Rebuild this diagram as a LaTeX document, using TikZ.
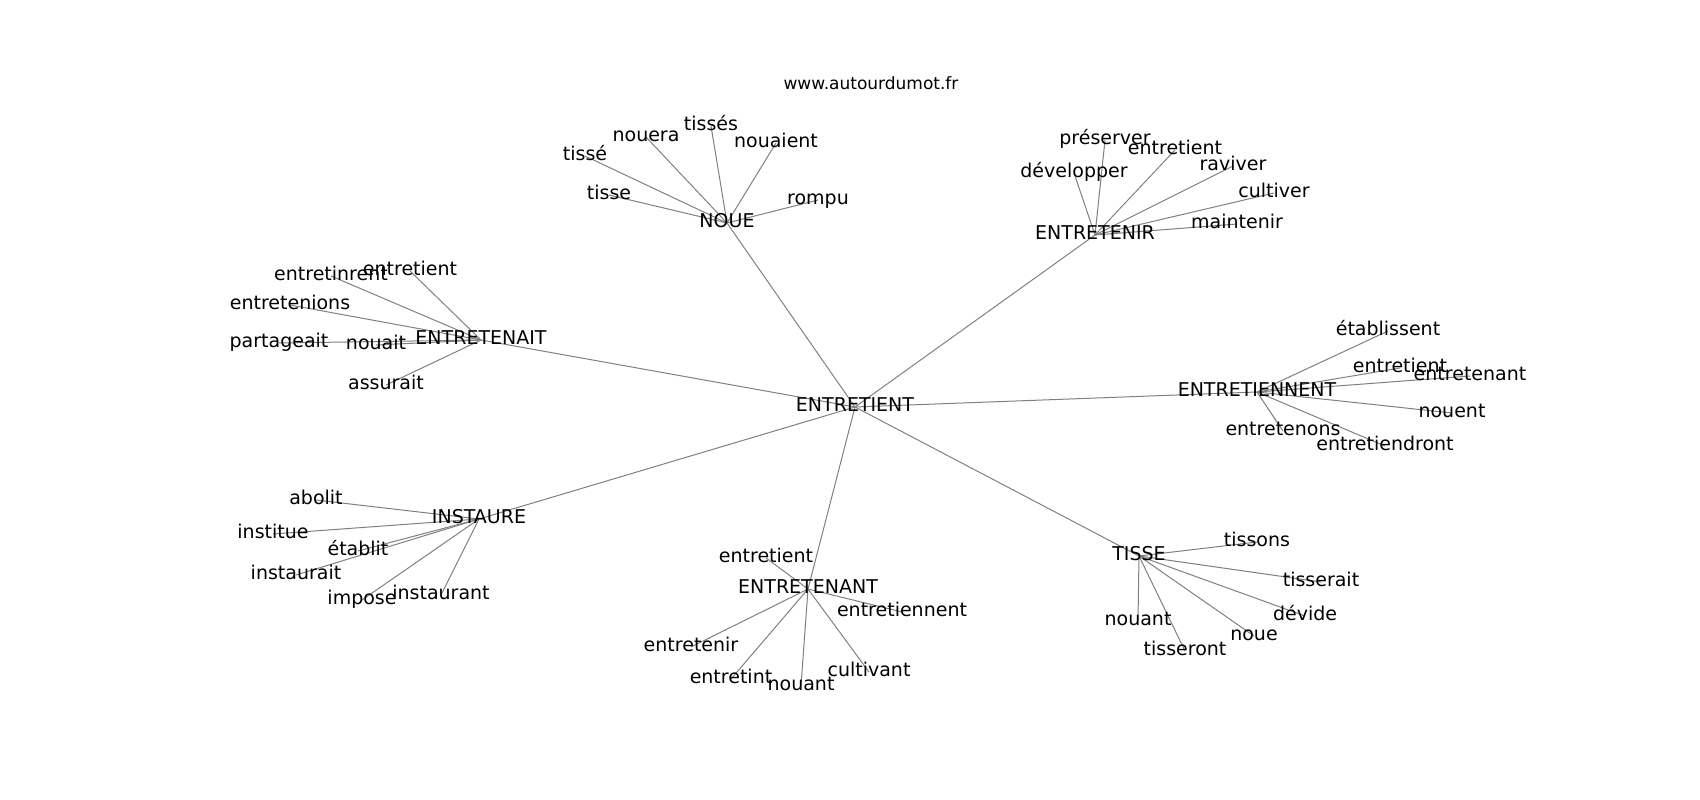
\documentclass[tikz,border=0pt]{standalone}
\usepackage{fontspec}
\setmainfont{DejaVu Sans}
\usetikzlibrary{backgrounds}

\begin{document}
\begin{tikzpicture}[x=1pt, y=-1pt,
    word/.style={inner sep=0pt, text height=14pt, text depth=4.5pt, font=\fontsize{19}{23}\selectfont},
    edge/.style={draw=gray, line width=1pt}]
  \useasboundingbox (0,0) rectangle (1700,800);

  \node [inner sep=0pt, font=\fontsize{17}{20}\selectfont] (title) at (871,83) {www.autourdumot.fr};

  % hubs
  \node [word] (entretient) at (855,407) {ENTRETIENT};
  \node [word] (noue) at (727,223) {NOUE};
  \node [word] (entretenir) at (1095,235) {ENTRETENIR};
  \node [word] (entretenait) at (481,340) {ENTRETENAIT};
  \node [word] (entretiennent) at (1257,392) {ENTRETIENNENT};
  \node [word] (instaure) at (479,519) {INSTAURE};
  \node [word] (entretenant) at (808,589) {ENTRETENANT};
  \node [word] (tisse) at (1139,556) {TISSE};

  \begin{scope}[on background layer]
    \foreach \h in {noue, entretenir, entretenait, entretiennent, instaure, entretenant, tisse}
      \draw [edge] (entretient.center) -- (\h.center);
  \end{scope}

  % leaves
  \foreach \w/\x/\y [count=\i] in {tisse/609/195, tissé/585/156, nouera/646/137, tissés/711/126, nouaient/776/143, rompu/818/200} {
    \node [word] (noue-\i) at (\x,\y) {\w};
    \begin{scope}[on background layer]
      \draw [edge] (noue.center) -- (noue-\i.center);
    \end{scope}
  }
  \foreach \w/\x/\y [count=\i] in {préserver/1105/140, entretient/1175/150, développer/1074/173, raviver/1233/166, cultiver/1274/193, maintenir/1237/224} {
    \node [word] (entretenir-\i) at (\x,\y) {\w};
    \begin{scope}[on background layer]
      \draw [edge] (entretenir.center) -- (entretenir-\i.center);
    \end{scope}
  }
  \foreach \w/\x/\y [count=\i] in {entretinrent/331/276, entretient/410/271, entretenions/290/305, partageait/279/343, nouait/376/345, assurait/386/385} {
    \node [word] (entretenait-\i) at (\x,\y) {\w};
    \begin{scope}[on background layer]
      \draw [edge] (entretenait.center) -- (entretenait-\i.center);
    \end{scope}
  }
  \foreach \w/\x/\y [count=\i] in {établissent/1388/331, entretient/1400/368, entretenant/1470/376, nouent/1452/413, entretenons/1283/431, entretiendront/1385/446} {
    \node [word] (entretiennent-\i) at (\x,\y) {\w};
    \begin{scope}[on background layer]
      \draw [edge] (entretiennent.center) -- (entretiennent-\i.center);
    \end{scope}
  }
  \foreach \w/\x/\y [count=\i] in {abolit/316/500, institue/273/534, établit/358/551, instaurait/296/575, impose/362/600, instaurant/441/595} {
    \node [word] (instaure-\i) at (\x,\y) {\w};
    \begin{scope}[on background layer]
      \draw [edge] (instaure.center) -- (instaure-\i.center);
    \end{scope}
  }
  \foreach \w/\x/\y [count=\i] in {entretient/766/558, entretiennent/902/612, entretenir/691/647, entretint/731/679, nouant/801/686, cultivant/869/672} {
    \node [word] (entretenant-\i) at (\x,\y) {\w};
    \begin{scope}[on background layer]
      \draw [edge] (entretenant.center) -- (entretenant-\i.center);
    \end{scope}
  }
  \foreach \w/\x/\y [count=\i] in {tissons/1257/542, tisserait/1321/582, dévide/1305/616, noue/1254/636, tisseront/1185/651, nouant/1138/621} {
    \node [word] (tisse-\i) at (\x,\y) {\w};
    \begin{scope}[on background layer]
      \draw [edge] (tisse.center) -- (tisse-\i.center);
    \end{scope}
  }
\end{tikzpicture}
\end{document}
